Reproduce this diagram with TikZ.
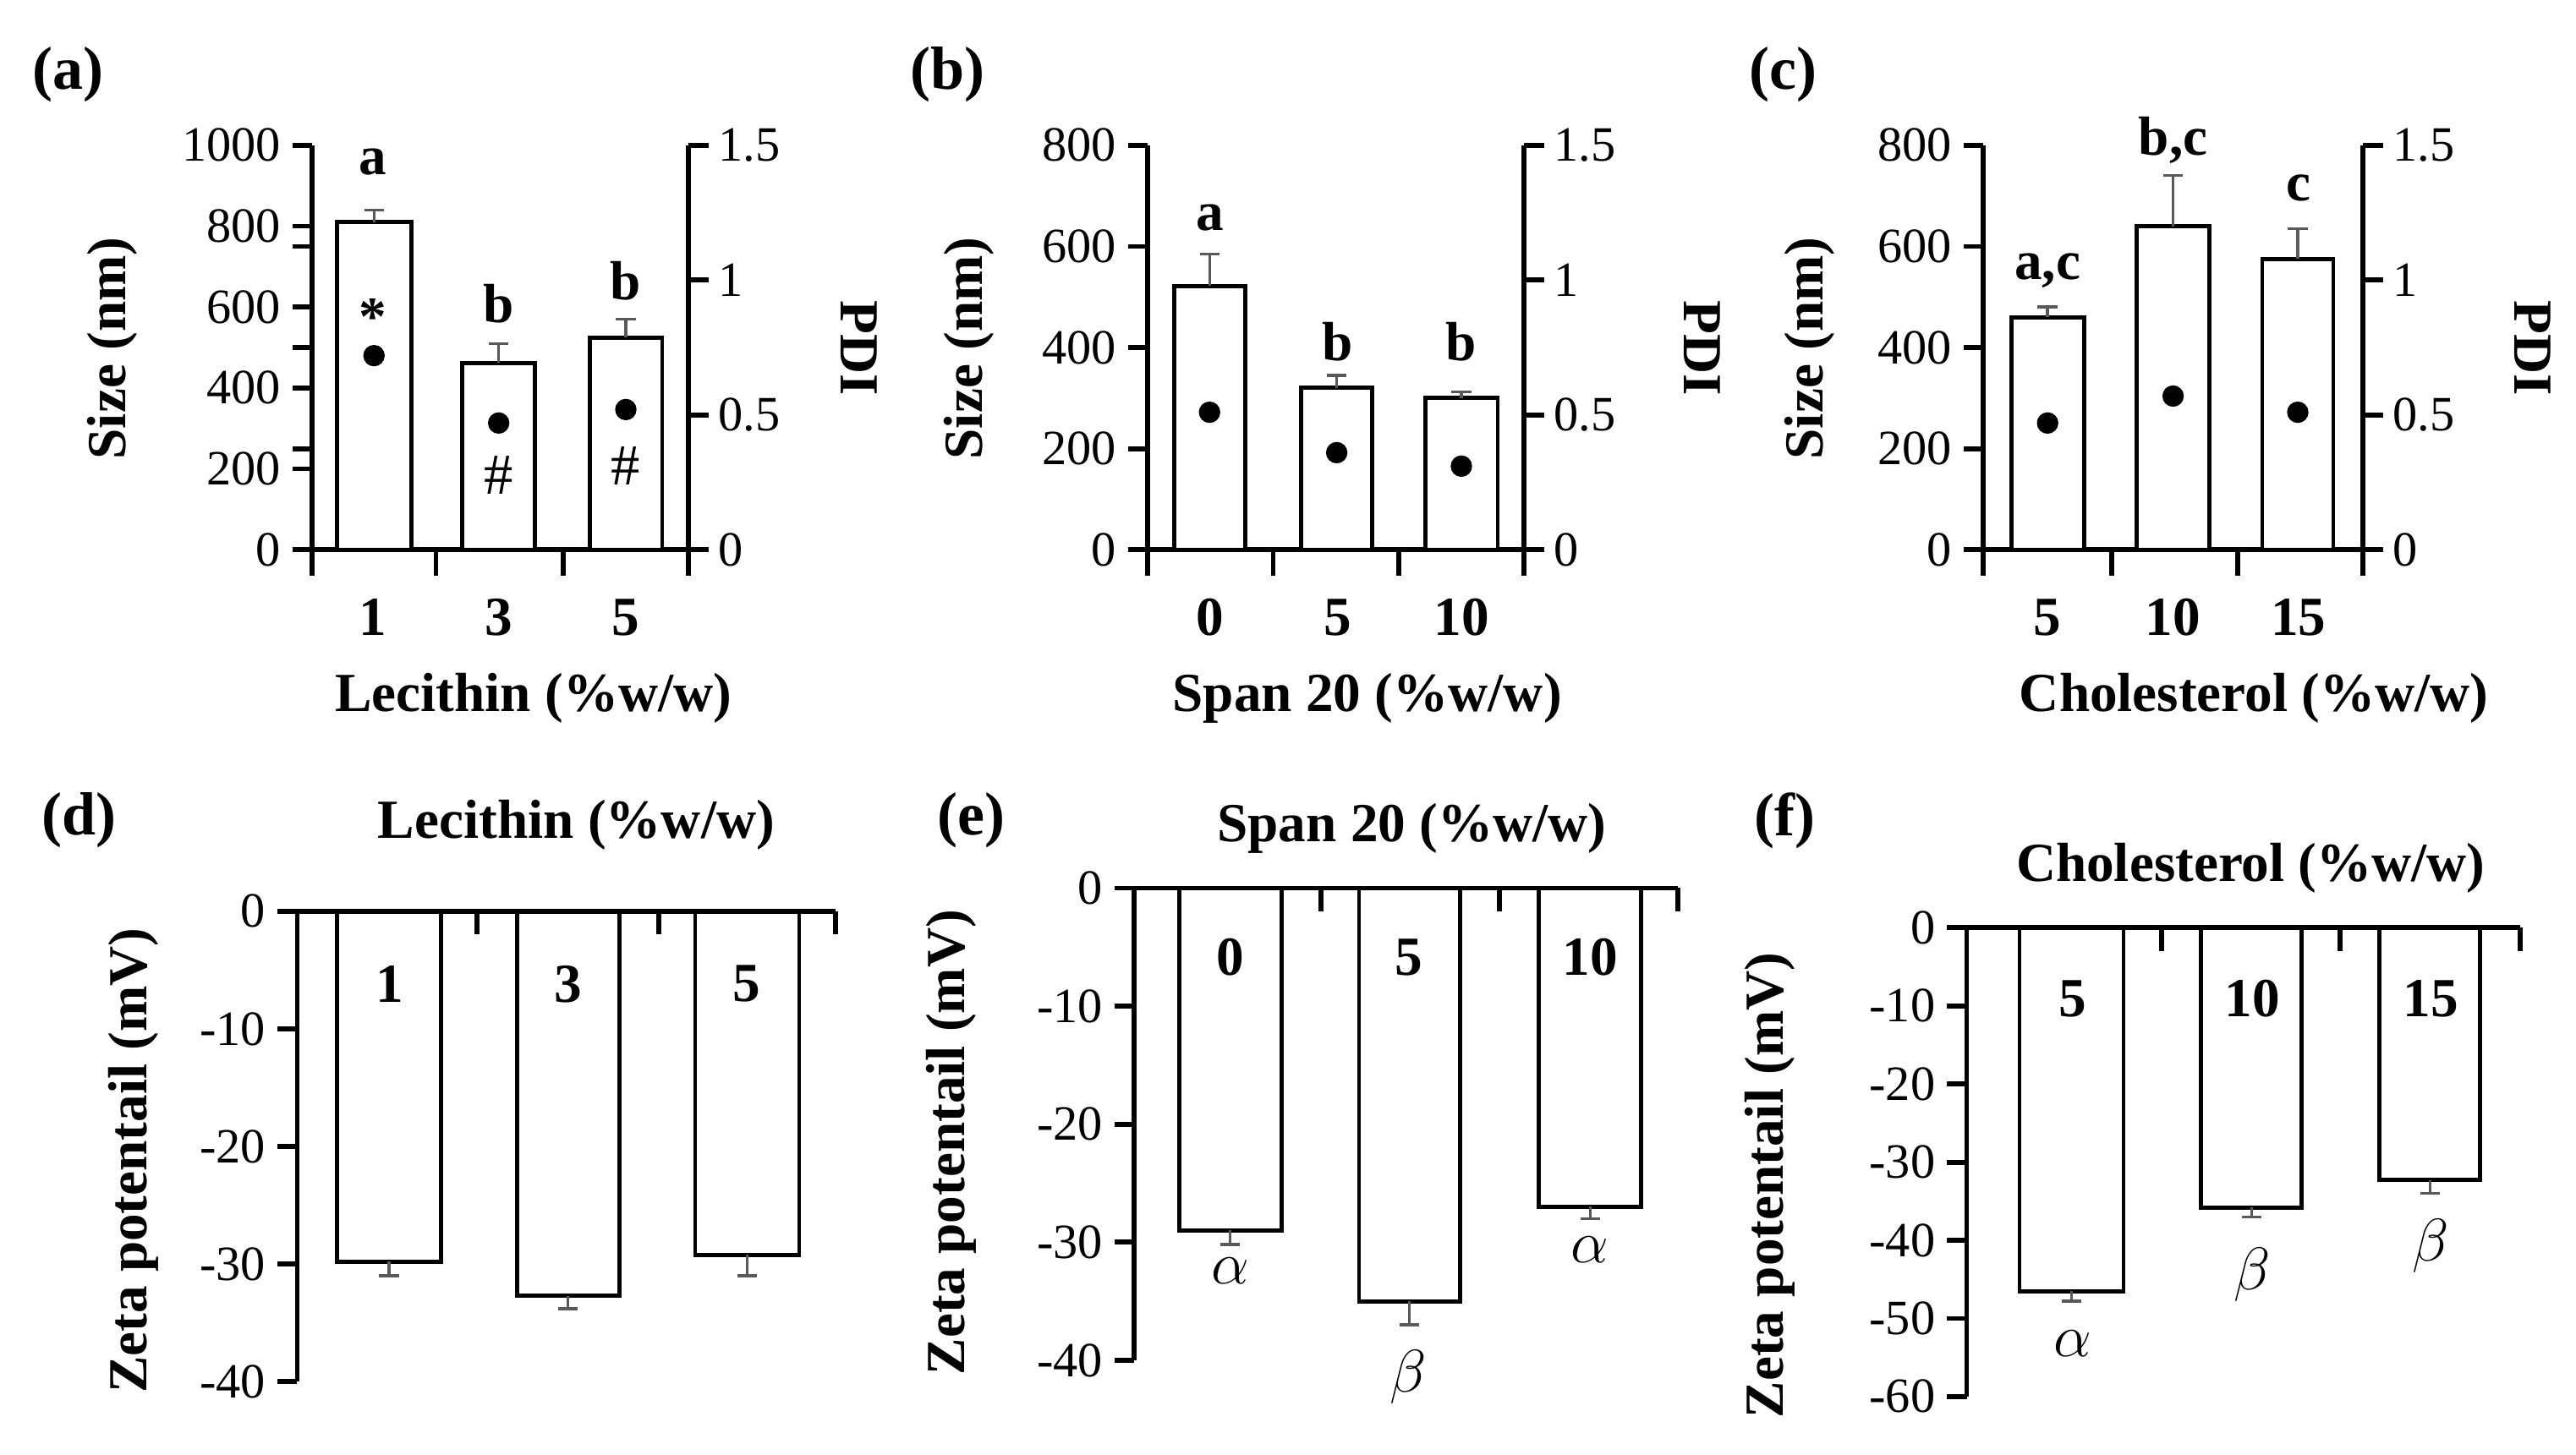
\documentclass[tikz,border=0pt]{standalone}
\usepackage{fontspec}
\setmainfont{Liberation Serif}
\begin{document}
\begin{tikzpicture}[x=0.2mm,y=-0.2mm,
  ax/.style={line width=0.6mm},
  barst/.style={line width=0.5mm,fill=white},
  errst/.style={line width=0.35mm,draw=black!65},
  tl/.style={font=\fontsize{17}{17}\selectfont,inner sep=1pt},
  bl/.style={font=\fontsize{19}{19}\selectfont\bfseries,inner sep=1pt},
  gl/.style={font=\fontsize{20}{20}\selectfont,inner sep=1pt}]
\useasboundingbox (0,0) rectangle (1560,881);
% ---------- generic macros
\newcommand\topbar[7]{% x1 x2 val err pdi axisbase k
  \draw[barst] (#1,333) rectangle (#2,{333-#7*#3});
  \draw[errst] ({(#1+#2)/2},{333-#7*#3}) -- ({(#1+#2)/2},{333-#7*#4}) +(-6,0) -- +(6,0);
  \fill ({(#1+#2)/2},{333-163.3*#5}) circle (6.5);}
\newcommand\topaxes[5]{% left right ticks... label values
  \draw[ax] (#1,88) -- (#1,333);
  \draw[ax] (#2,88) -- (#2,333);
  \draw[ax] ({#1-12},333) -- ({#2+12},333);
  \foreach \t in {0,1,2,3,4} \draw[ax] ({#1-12},{333-\t*61.25}) -- (#1,{333-\t*61.25});
  \foreach \t in {0,1,2,3} \draw[ax] (#2,{333-\t*81.67}) -- ({#2+12},{333-\t*81.67});
  \foreach \t/\l in {0/0,1/0.5,2/1,3/1.5} \node[tl,anchor=west] at ({#2+16},{333-\t*81.67}) {\l};
  \foreach \xx in {#3} \draw[ax] (\xx,333) -- (\xx,349);}
% ================= (a)
\node[bl,font=\fontsize{21}{21}\selectfont\bfseries] (la) at (41,45) {(a)};
\topaxes{189}{417}{189,264,341,417}{}{}
\foreach \t/\l in {0/0,1/200,2/400,3/600,4/800,5/1000} \node[tl,anchor=east] at (172,{333-\t*49}) {\l};
\draw[ax] (177,{333-4*49}) -- (189,{333-4*49}); \draw[ax] (177,{333-5*49}) -- (189,{333-5*49});
\draw[ax] (177,{333-1*49}) -- (189,{333-1*49}); \draw[ax] (177,{333-2*49}) -- (189,{333-2*49}); \draw[ax] (177,{333-3*49}) -- (189,{333-3*49});
\topbar{204}{249}{810}{840}{0.72}{}{0.245}
\topbar{280}{324}{462}{510}{0.47}{}{0.245}
\topbar{357}{401}{525}{570}{0.52}{}{0.245}
\node[bl] at (226,98) {a}; \node[bl] at (302,184) {b}; \node[bl] at (379,170) {b};
\node[bl] at (226,192) {*}; \node[gl] at (302,288) {\#}; \node[gl] at (379,282) {\#};
\foreach \xx/\l in {226/1,302/3,379/5} \node[bl] at (\xx,374) {\l};
\node[bl] (ta) at (323,423) {Lecithin (\%w/w)};
\node[bl,rotate=90] (ya) at (68,211) {Size (nm)};
\node[bl,rotate=-90] (pa) at (520,211) {PDI};
% ================= (b)
\node[bl,font=\fontsize{21}{21}\selectfont\bfseries] (lb) at (574,45) {(b)};
\topaxes{695}{923}{695,771,847,923}{}{}
\foreach \t/\l in {0/0,1/200,2/400,3/600,4/800} \node[tl,anchor=east] at (678,{333-\t*61.25}) {\l};
\topbar{711}{754}{522}{585}{0.51}{}{0.30625}
\topbar{788}{831}{320}{345}{0.36}{}{0.30625}
\topbar{863}{907}{300}{312}{0.31}{}{0.30625}
\node[bl] at (733,132) {a}; \node[bl] at (810,207) {b}; \node[bl] at (885,207) {b};
\foreach \xx/\l in {733/0,810/5,885/10} \node[bl] at (\xx,374) {\l};
\node[bl] (tb) at (828,423) {Span 20 (\%w/w)};
\node[bl,rotate=90] (yb) at (587,211) {Size (nm)};
\node[bl,rotate=-90] (pb) at (1031,211) {PDI};
% ================= (c)
\node[bl,font=\fontsize{21}{21}\selectfont\bfseries] (lc) at (1080,45) {(c)};
\topaxes{1201}{1431}{1201,1279,1355,1431}{}{}
\foreach \t/\l in {0/0,1/200,2/400,3/600,4/800} \node[tl,anchor=east] at (1184,{333-\t*61.25}) {\l};
\topbar{1218}{1262}{460}{480}{0.47}{}{0.30625}
\topbar{1294}{1338}{640}{740}{0.57}{}{0.30625}
\topbar{1370}{1413}{575}{635}{0.51}{}{0.30625}
\node[bl] at (1240,164) {a,c}; \node[bl] at (1316,85) {b,c}; \node[bl] at (1392,114) {c};
\foreach \xx/\l in {1240/5,1316/10,1392/15} \node[bl] at (\xx,374) {\l};
\node[bl] (tc) at (1365,423) {Cholesterol (\%w/w)};
\node[bl,rotate=90] (yc) at (1096,211) {Size (nm)};
\node[bl,rotate=-90] (pc) at (1534,211) {PDI};
% ---------- zeta macro: x1 x2 val err y0 k
\newcommand\zbar[6]{%
  \draw[barst] (#1,#5) rectangle (#2,{#5-#6*#3});
  \draw[errst] ({(#1+#2)/2},{#5-#6*#3}) -- ({(#1+#2)/2},{#5-#6*#4}) +(-6,0) -- +(6,0);}
% ================= (d)
\node[bl,font=\fontsize{21}{21}\selectfont\bfseries] (ld) at (48,497) {(d)};
\node[bl] (td) at (349,500) {Lecithin (\%w/w)};
\draw[ax] (180,552) -- (180,837);
\foreach \t/\l in {0/0,1/-10,2/-20,3/-30,4/-40} {\draw[ax] (168,{552+\t*71.25}) -- (180,{552+\t*71.25}); \node[tl,anchor=east] at (163,{552+\t*71.25}) {\l};}
\zbar{204}{267}{-29.8}{-31}{552}{7.125}
\zbar{313}{375}{-32.7}{-33.8}{552}{7.125}
\zbar{421}{484}{-29.2}{-31}{552}{7.125}
\draw[ax] (168,552) -- (506,552);
\foreach \xx in {289,399,506} \draw[ax] (\xx,552) -- (\xx,566);
\foreach \xx/\l in {236/1,344/3,452/5} \node[bl] at (\xx,596) {\l};
\node[bl,rotate=90] (yd) at (81,703) {Zeta potentail (mV)};
% ================= (e)
\node[bl,font=\fontsize{21}{21}\selectfont\bfseries] (le) at (588,497) {(e)};
\node[bl] (te) at (855,502) {Span 20 (\%w/w)};
\draw[ax] (687,538) -- (687,824);
\foreach \t/\l in {0/0,1/-10,2/-20,3/-30,4/-40} {\draw[ax] (675,{538+\t*71.5}) -- (687,{538+\t*71.5}); \node[tl,anchor=east] at (670,{538+\t*71.5}) {\l};}
\zbar{714}{776}{-29}{-30.2}{538}{7.15}
\zbar{823}{884}{-35}{-37}{538}{7.15}
\zbar{932}{994}{-27}{-28}{538}{7.15}
\draw[ax] (675,538) -- (1016,538);
\foreach \xx in {800,908,1016} \draw[ax] (\xx,538) -- (\xx,552);
\foreach \xx/\l in {745/0,853/5,963/10} \node[bl] at (\xx,580) {\l};
\node[gl] at (745,770) {$\alpha$}; \node[gl] at (853,834) {$\beta$}; \node[gl] at (963,757) {$\alpha$};
\node[bl,rotate=90] (ye) at (576,692) {Zeta potentail (mV)};
% ================= (f)
\node[bl,font=\fontsize{21}{21}\selectfont\bfseries] (lf) at (1081,497) {(f)};
\node[bl] (tf) at (1363,526) {Cholesterol (\%w/w)};
\draw[ax] (1191,562) -- (1191,846);
\foreach \t/\l in {0/0,1/-10,2/-20,3/-30,4/-40,5/-50,6/-60} {\draw[ax] (1179,{562+\t*47.33}) -- (1191,{562+\t*47.33}); \node[tl,anchor=east] at (1174,{562+\t*47.33}) {\l};}
\zbar{1223}{1286}{-46.5}{-47.8}{562}{4.733}
\zbar{1333}{1394}{-35.8}{-37}{562}{4.733}
\zbar{1441}{1502}{-32.3}{-34}{562}{4.733}
\draw[ax] (1179,562) -- (1526,562);
\foreach \xx in {1309,1417,1526} \draw[ax] (\xx,562) -- (\xx,576);
\foreach \xx/\l in {1255/5,1364/10,1472/15} \node[bl] at (\xx,605) {\l};
\node[gl] at (1255,814) {$\alpha$}; \node[gl] at (1364,772) {$\beta$}; \node[gl] at (1472,755) {$\beta$};
\node[bl,rotate=90] (yf) at (1072,718) {Zeta potentail (mV)};
\end{tikzpicture}
\end{document}
